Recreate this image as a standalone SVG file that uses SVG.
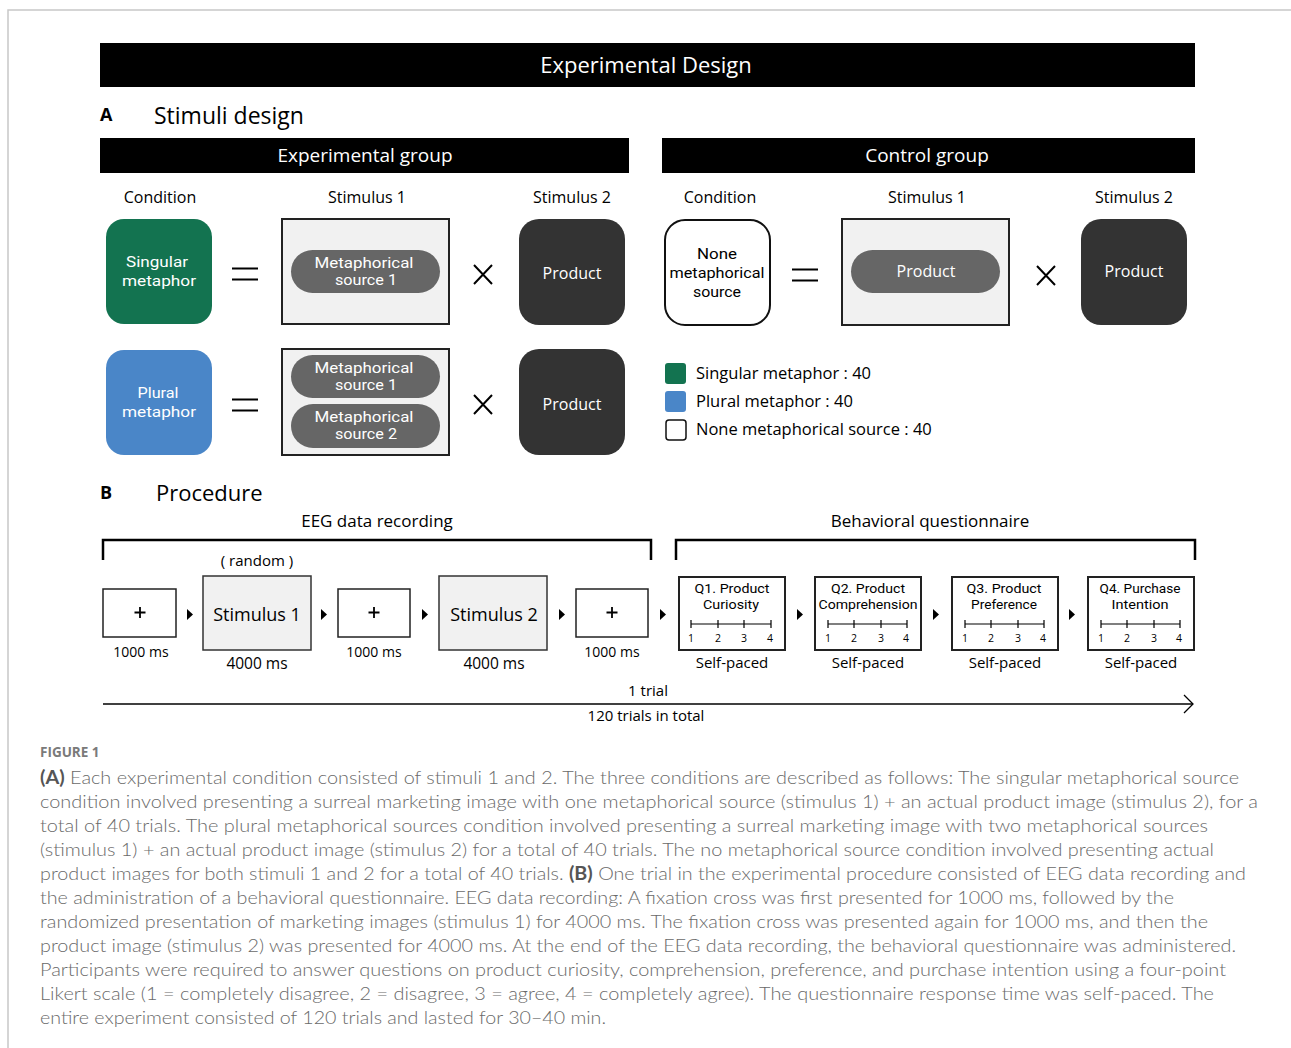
<svg xmlns="http://www.w3.org/2000/svg" width="1291" height="1048" viewBox="0 0 1291 1048">
<defs>
<style>
text{font-family:"Open Sans","Noto Sans",sans-serif;}
.c{text-anchor:middle;}
.w{fill:#fff;}
.hdr{font-size:16px;fill:#000;}
.n16{font-size:16px;}
.ml{font-family:Roboto,"Liberation Sans",sans-serif;}
.lg{font-size:16.5px;}
.bar{fill:#000;}
.stimbox{fill:#f1f1f1;stroke:#222;stroke-width:2;}
.pill{fill:#666;}
.dark{fill:#333;}
.op{stroke:#000;stroke-width:2;fill:none;}
.fix{fill:#fff;stroke:#222;stroke-width:1.5;}
.plus{stroke:#000;stroke-width:1.8;fill:none;}
.gbox{fill:#f1f1f1;stroke:#333;stroke-width:1.5;}
.qbox{fill:#fff;stroke:#222;stroke-width:2;}
.ms{font-size:14px;}
.sp{font-size:15px;}
.qt{font-family:Roboto,"Liberation Sans",sans-serif;font-size:12.5px;}
.num{font-size:10.5px;}
.tri{fill:#000;}
.scale{stroke:#000;stroke-width:1.2;fill:none;}
.cap{font-family:Lato,"Open Sans",sans-serif;font-weight:300;font-size:18px;fill:#6a6a6a;}
</style>
</defs>

<!-- frame -->
<path d="M8 1048 V10 H1291" fill="none" stroke="#c8c8c8" stroke-width="1.5"/>

<g id="title">
<rect class="bar" x="100" y="43" width="1095" height="44"/>
<text class="c w" x="646" y="73" font-size="22">Experimental Design</text>
</g>

<g id="sectionA">
<text x="100" y="121" font-size="18" font-weight="bold">A</text>
<text x="154" y="124" font-size="23">Stimuli design</text>
</g>

<g id="exp-group-header">
<rect class="bar" x="100" y="138" width="529" height="35"/>
<text class="c w" x="365" y="162" font-size="19">Experimental group</text>
</g>
<g id="ctrl-group-header">
<rect class="bar" x="662" y="138" width="533" height="35"/>
<text class="c w" x="927" y="162" font-size="19">Control group</text>
</g>

<g id="column-headers">
<text class="c hdr" x="160" y="203">Condition</text>
<text class="c hdr" x="367" y="203">Stimulus 1</text>
<text class="c hdr" x="572" y="203">Stimulus 2</text>
<text class="c hdr" x="720" y="203">Condition</text>
<text class="c hdr" x="927" y="203">Stimulus 1</text>
<text class="c hdr" x="1134" y="203">Stimulus 2</text>
</g>

<!-- Row 1 experimental -->
<g id="singular">
<rect x="106" y="219" width="106" height="105" rx="18" fill="#137350"/>
<text class="c w ml" font-size="15.5" x="159" y="267"><tspan x="157" textLength="62" lengthAdjust="spacingAndGlyphs">Singular</tspan><tspan x="159" dy="19" textLength="74" lengthAdjust="spacingAndGlyphs">metaphor</tspan></text>
</g>
<g id="eq1"><path class="op" d="M232 268.5 H258 M232 279.5 H258"/></g>
<g id="stim1-singular">
<rect class="stimbox" x="282" y="219" width="167" height="105"/>
<rect class="pill" x="291" y="250" width="149" height="43" rx="21.5"/>
<text class="c w ml" font-size="14" x="365" y="268"><tspan x="364" textLength="99" lengthAdjust="spacingAndGlyphs">Metaphorical</tspan><tspan x="366" dy="17" textLength="62" lengthAdjust="spacingAndGlyphs">source 1</tspan></text>
</g>
<g id="x1"><path class="op" d="M474 265 L492 284 M492 265 L474 284"/></g>
<g id="product1">
<rect class="dark" x="519" y="219" width="106" height="106" rx="20"/>
<text class="c w n16" x="572" y="279">Product</text>
</g>

<!-- Row 2 experimental -->
<g id="plural">
<rect x="106" y="350" width="106" height="105" rx="18" fill="#4a86c8"/>
<text class="c w ml" font-size="15" x="159" y="398"><tspan x="158" textLength="41" lengthAdjust="spacingAndGlyphs">Plural</tspan><tspan x="159" dy="18.5" textLength="74" lengthAdjust="spacingAndGlyphs">metaphor</tspan></text>
</g>
<g id="eq2"><path class="op" d="M232 399.5 H258 M232 410.5 H258"/></g>
<g id="stim1-plural">
<rect class="stimbox" x="282" y="349" width="167" height="106"/>
<rect class="pill" x="291" y="355" width="149" height="43" rx="21.5"/>
<text class="c w ml" font-size="14" x="365" y="373"><tspan x="364" textLength="99" lengthAdjust="spacingAndGlyphs">Metaphorical</tspan><tspan x="366" dy="17" textLength="62" lengthAdjust="spacingAndGlyphs">source 1</tspan></text>
<rect class="pill" x="291" y="404" width="149" height="44" rx="22"/>
<text class="c w ml" font-size="14" x="365" y="422"><tspan x="364" textLength="99" lengthAdjust="spacingAndGlyphs">Metaphorical</tspan><tspan x="366" dy="17" textLength="62" lengthAdjust="spacingAndGlyphs">source 2</tspan></text>
</g>
<g id="x2"><path class="op" d="M474 395 L492 414 M492 395 L474 414"/></g>
<g id="product2">
<rect class="dark" x="519" y="349" width="106" height="106" rx="20"/>
<text class="c w n16" x="572" y="410">Product</text>
</g>

<!-- Control row -->
<g id="none-source">
<rect x="665" y="220" width="105" height="105" rx="20" fill="#fff" stroke="#111" stroke-width="2"/>
<text class="c ml" font-size="15.5" x="717" y="259"><tspan x="717" textLength="40" lengthAdjust="spacingAndGlyphs">None</tspan><tspan x="717" dy="19" textLength="95" lengthAdjust="spacingAndGlyphs">metaphorical</tspan><tspan x="717" dy="19" textLength="48" lengthAdjust="spacingAndGlyphs">source</tspan></text>
</g>
<g id="eq3"><path class="op" d="M792 269.5 H818 M792 280.5 H818"/></g>
<g id="stim1-control">
<rect class="stimbox" x="842" y="219" width="167" height="106"/>
<rect class="pill" x="851" y="250" width="149" height="43" rx="21.5"/>
<text class="c w n16" x="926" y="277">Product</text>
</g>
<g id="x3"><path class="op" d="M1037 266 L1055 285 M1055 266 L1037 285"/></g>
<g id="product3">
<rect class="dark" x="1081" y="219" width="106" height="106" rx="20"/>
<text class="c w n16" x="1134" y="277">Product</text>
</g>

<g id="legend">
<rect x="665" y="363" width="21" height="21" rx="3" fill="#137350"/>
<text class="lg" x="696" y="379">Singular metaphor : 40</text>
<rect x="665" y="391" width="21" height="21" rx="3" fill="#4a86c8"/>
<text class="lg" x="696" y="407">Plural metaphor : 40</text>
<rect x="666" y="420" width="20" height="20" rx="3" fill="#fff" stroke="#111" stroke-width="1.5"/>
<text class="lg" x="696" y="435">None metaphorical source : 40</text>
</g>

<!-- Section B -->
<g id="sectionB">
<text x="100" y="499" font-size="18" font-weight="bold">B</text>
<text x="156" y="501" font-size="22">Procedure</text>
</g>

<g id="eeg-bracket">
<text class="c" x="377" y="527" font-size="17">EEG data recording</text>
<path d="M103 560 V540 H651 V560" fill="none" stroke="#000" stroke-width="2.5"/>
</g>
<g id="bq-bracket">
<text class="c" x="930" y="527" font-size="17">Behavioral questionnaire</text>
<path d="M676 560 V540 H1195 V560" fill="none" stroke="#000" stroke-width="2.5"/>
</g>

<g id="fix1">
<rect class="fix" x="103" y="589" width="73" height="48"/>
<path class="plus" d="M134.5 612.5 H145.5 M140 607 V618"/>
<text class="c ms" x="141" y="657">1000 ms</text>
</g>
<g id="stim1-proc">
<text class="c sp" x="257" y="566">( random )</text>
<rect class="gbox" x="203" y="576" width="108" height="74"/>
<text class="c" x="257" y="621" font-size="18">Stimulus 1</text>
<text class="c" x="257" y="669" font-size="15.5">4000 ms</text>
</g>
<g id="fix2">
<rect class="fix" x="338" y="589" width="72" height="48"/>
<path class="plus" d="M368.5 612.5 H379.5 M374 607 V618"/>
<text class="c ms" x="374" y="657">1000 ms</text>
</g>
<g id="stim2-proc">
<rect class="gbox" x="439" y="576" width="108" height="74"/>
<text class="c" x="494" y="621" font-size="18">Stimulus 2</text>
<text class="c" x="494" y="669" font-size="15.5">4000 ms</text>
</g>
<g id="fix3">
<rect class="fix" x="576" y="589" width="72" height="48"/>
<path class="plus" d="M606.5 612.5 H617.5 M612 607 V618"/>
<text class="c ms" x="612" y="657">1000 ms</text>
</g>

<g id="q1">
<rect class="qbox" x="679" y="577" width="106" height="73"/>
<text class="c qt" x="732" y="593"><tspan x="732" textLength="75" lengthAdjust="spacingAndGlyphs">Q1. Product</tspan><tspan x="731" dy="15.5" textLength="56" lengthAdjust="spacingAndGlyphs">Curiosity</tspan></text>
<path class="scale" d="M691 624 H771 M691 620 V628 M718 620 V628 M744 620 V628 M771 620 V628"/>
<text class="c num" x="691" y="642">1</text><text class="c num" x="718" y="642">2</text><text class="c num" x="744" y="642">3</text><text class="c num" x="770" y="642">4</text>
<text class="c sp" x="732" y="668">Self-paced</text>
</g>
<g id="q2">
<rect class="qbox" x="815" y="577" width="106" height="73"/>
<text class="c qt" x="868" y="593"><tspan x="868" textLength="74" lengthAdjust="spacingAndGlyphs">Q2. Product</tspan><tspan x="868" dy="15.5" textLength="99" lengthAdjust="spacingAndGlyphs">Comprehension</tspan></text>
<path class="scale" d="M828 624 H907 M828 620 V628 M854 620 V628 M881 620 V628 M907 620 V628"/>
<text class="c num" x="828" y="642">1</text><text class="c num" x="854" y="642">2</text><text class="c num" x="881" y="642">3</text><text class="c num" x="906" y="642">4</text>
<text class="c sp" x="868" y="668">Self-paced</text>
</g>
<g id="q3">
<rect class="qbox" x="952" y="577" width="106" height="73"/>
<text class="c qt" x="1005" y="593"><tspan x="1004" textLength="75" lengthAdjust="spacingAndGlyphs">Q3. Product</tspan><tspan x="1004" dy="15.5" textLength="66" lengthAdjust="spacingAndGlyphs">Preference</tspan></text>
<path class="scale" d="M965 624 H1044 M965 620 V628 M991 620 V628 M1018 620 V628 M1044 620 V628"/>
<text class="c num" x="965" y="642">1</text><text class="c num" x="991" y="642">2</text><text class="c num" x="1018" y="642">3</text><text class="c num" x="1043" y="642">4</text>
<text class="c sp" x="1005" y="668">Self-paced</text>
</g>
<g id="q4">
<rect class="qbox" x="1088" y="577" width="106" height="73"/>
<text class="c qt" x="1141" y="593"><tspan x="1140" textLength="81" lengthAdjust="spacingAndGlyphs">Q4. Purchase</tspan><tspan x="1140" dy="15.5" textLength="57" lengthAdjust="spacingAndGlyphs">Intention</tspan></text>
<path class="scale" d="M1101 624 H1180 M1101 620 V628 M1127 620 V628 M1154 620 V628 M1180 620 V628"/>
<text class="c num" x="1101" y="642">1</text><text class="c num" x="1127" y="642">2</text><text class="c num" x="1154" y="642">3</text><text class="c num" x="1179" y="642">4</text>
<text class="c sp" x="1141" y="668">Self-paced</text>
</g>

<g id="connectors">
<path class="tri" d="M187 609 L193 614.5 L187 620 Z"/>
<path class="tri" d="M321 609 L327 614.5 L321 620 Z"/>
<path class="tri" d="M422 609 L428 614.5 L422 620 Z"/>
<path class="tri" d="M559 609 L565 614.5 L559 620 Z"/>
<path class="tri" d="M660 609 L666 614.5 L660 620 Z"/>
<path class="tri" d="M797 609 L803 614.5 L797 620 Z"/>
<path class="tri" d="M933 609 L939 614.5 L933 620 Z"/>
<path class="tri" d="M1069 609 L1075 614.5 L1069 620 Z"/>
<path d="M103 704 H1193" stroke="#000" stroke-width="1.3" fill="none"/>
<path d="M1184 695 L1193 704 L1184 713" stroke="#000" stroke-width="1.3" fill="none"/>
</g>
<g id="trial-labels">
<text class="c sp" x="648" y="696">1 trial</text>
<text class="c sp" x="646" y="721">120 trials in total</text>
</g>

<g id="caption">
<text x="40" y="757" font-family="Lato,'Open Sans',sans-serif" font-size="13.5" font-weight="bold" fill="#7a7a7a">FIGURE 1</text>
<text class="cap" x="40" y="784" textLength="1199" lengthAdjust="spacingAndGlyphs"><tspan font-weight="bold" fill="#555">(A)</tspan> Each experimental condition consisted of stimuli 1 and 2. The three conditions are described as follows: The singular metaphorical source</text>
<text class="cap" x="40" y="808" textLength="1218" lengthAdjust="spacingAndGlyphs">condition involved presenting a surreal marketing image with one metaphorical source (stimulus 1) + an actual product image (stimulus 2), for a</text>
<text class="cap" x="40" y="832" textLength="1168" lengthAdjust="spacingAndGlyphs">total of 40 trials. The plural metaphorical sources condition involved presenting a surreal marketing image with two metaphorical sources</text>
<text class="cap" x="40" y="856" textLength="1174" lengthAdjust="spacingAndGlyphs">(stimulus 1) + an actual product image (stimulus 2) for a total of 40 trials. The no metaphorical source condition involved presenting actual</text>
<text class="cap" x="40" y="880" textLength="1206" lengthAdjust="spacingAndGlyphs">product images for both stimuli 1 and 2 for a total of 40 trials. <tspan font-weight="bold" fill="#555">(B)</tspan> One trial in the experimental procedure consisted of EEG data recording and</text>
<text class="cap" x="40" y="904" textLength="1134" lengthAdjust="spacingAndGlyphs">the administration of a behavioral questionnaire. EEG data recording: A fixation cross was first presented for 1000 ms, followed by the</text>
<text class="cap" x="40" y="928" textLength="1168" lengthAdjust="spacingAndGlyphs">randomized presentation of marketing images (stimulus 1) for 4000 ms. The fixation cross was presented again for 1000 ms, and then the</text>
<text class="cap" x="40" y="952" textLength="1196" lengthAdjust="spacingAndGlyphs">product image (stimulus 2) was presented for 4000 ms. At the end of the EEG data recording, the behavioral questionnaire was administered.</text>
<text class="cap" x="40" y="976" textLength="1186" lengthAdjust="spacingAndGlyphs">Participants were required to answer questions on product curiosity, comprehension, preference, and purchase intention using a four-point</text>
<text class="cap" x="40" y="1000" textLength="1174" lengthAdjust="spacingAndGlyphs">Likert scale (1 = completely disagree, 2 = disagree, 3 = agree, 4 = completely agree). The questionnaire response time was self-paced. The</text>
<text class="cap" x="40" y="1024" textLength="566" lengthAdjust="spacingAndGlyphs">entire experiment consisted of 120 trials and lasted for 30–40 min.</text>
</g>
</svg>
